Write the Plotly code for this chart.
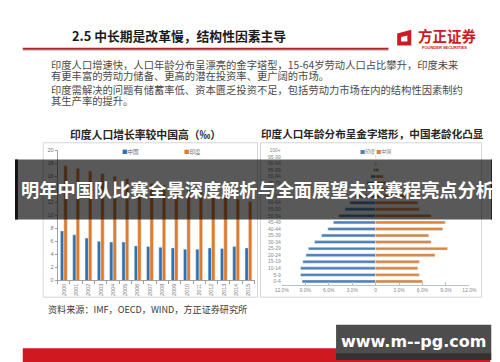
import plotly.graph_objects as go

# ---------------- data ----------------
years = ["2000", "2001", "2002", "2003", "2004", "2005", "2006", "2007",
         "2008", "2009", "2010", "2011", "2012", "2013", "2014", "2015"]
china_growth = [7.6, 7.0, 6.5, 6.0, 5.9, 5.9, 5.3, 5.2, 5.1, 5.0, 4.8, 4.8, 5.0, 4.9, 5.2, 5.0]
india_growth = [17.6, 17.2, 16.8, 16.4, 16.0, 15.6, 15.3, 14.9, 14.6, 14.2, 13.9, 13.5, 13.2, 12.8, 12.5, 12.1]

age_groups = ["0-4", "5-9", "10-14", "15-19", "20-24", "25-29", "30-34", "35-39",
              "40-44", "45-49", "50-54", "55-59", "60-64", "65-69", "70-74", "75-79",
              "80-84", "85-89", "90-94", "95-99", "100+"]
india_age = [9.4, 9.6, 9.6, 9.3, 8.9, 8.6, 7.8, 6.9, 6.1, 5.4, 4.7, 3.9, 3.3, 2.6,
             1.8, 1.1, 0.6, 0.25, 0.08, 0.02, 0.01]
china_age = [6.0, 5.6, 5.4, 5.6, 7.6, 9.2, 7.1, 6.8, 8.6, 8.9, 7.1, 5.6, 5.4, 3.8,
             2.6, 1.8, 1.0, 0.4, 0.1, 0.02, 0.0]

pyr_tickvals = [-12, -9, -6, -3, 0, 3, 6, 9, 12]
pyr_ticktext = ["12.0%", "9.0%", "6.0%", "3.0%", "0", "3.0%", "6.0%", "9.0%", "12.0%"]

W, H = 500, 362
CJK = "Noto Sans CJK SC"


def X(px):
    return px / W


def Y(py):
    return 1 - py / H


fig = go.Figure()

# left chart: growth rates
fig.add_trace(go.Bar(x=years, y=china_growth, name="中国", marker_color="#2E72B4",
                     width=0.28, offset=-0.28, xaxis="x", yaxis="y", showlegend=False))
fig.add_trace(go.Bar(x=years, y=india_growth, name="印度", marker_color="#E07B2C",
                     width=0.28, offset=0.0, xaxis="x", yaxis="y", showlegend=False))

# right chart: pyramid
fig.add_trace(go.Bar(y=age_groups, x=[-v for v in india_age], orientation="h", name="印度",
                     marker_color="#4F7FB8", width=0.45, offset=-0.225,
                     xaxis="x2", yaxis="y2", showlegend=False))
fig.add_trace(go.Bar(y=age_groups, x=china_age, orientation="h", name="中国",
                     marker_color="#D9843F", width=0.45, offset=-0.225,
                     xaxis="x2", yaxis="y2", showlegend=False))

small = dict(family="Liberation Sans", size=5.5, color="#777777")

fig.update_layout(
    width=W, height=H,
    margin=dict(l=0, r=0, t=0, b=0),
    paper_bgcolor="white", plot_bgcolor="rgba(0,0,0,0)",
    xaxis=dict(domain=[X(44), X(247)], anchor="y", type="category",
               range=[-0.5, 15.5], tickangle=-90, tickfont=small,
               showline=True, linecolor="#a0a0a0", linewidth=1,
               ticks="outside", ticklen=3, tickcolor="#a0a0a0", tickson="boundaries",
               showgrid=False, zeroline=False, fixedrange=True),
    yaxis=dict(domain=[Y(274), Y(141.5)], anchor="x", range=[0, 20], dtick=2,
               tickfont=small, showline=True, linecolor="#a0a0a0", linewidth=1,
               ticks="outside", ticklen=2, tickcolor="#a0a0a0",
               showgrid=False, zeroline=False, fixedrange=True),
    xaxis2=dict(domain=[X(275), X(468.5)], anchor="y2", range=[-12, 12],
                tickvals=pyr_tickvals, ticktext=pyr_ticktext,
                tickfont=dict(family="Liberation Sans", size=5, color="#8a8a8a"),
                showline=True, linecolor="#b4c2d0", linewidth=1,
                ticks="inside", ticklen=3, tickcolor="#b4c2d0",
                showgrid=False, zeroline=False, fixedrange=True),
    yaxis2=dict(domain=[Y(278.3), Y(138.3)], anchor="x2", type="category",
                categoryorder="array", categoryarray=age_groups,
                range=[-0.5, 20.5],
                tickfont=dict(family="Liberation Sans", size=5, color="#8a8a8a"),
                showline=False, ticks="", showgrid=False, zeroline=False,
                fixedrange=True),
)

shapes = []
# header red rule
shapes.append(dict(type="line", xref="paper", yref="paper", x0=X(8), x1=X(385),
                   y0=Y(38.5), y1=Y(38.5), line=dict(color="#a8282c", width=2)))
shapes.append(dict(type="line", xref="paper", yref="paper", x0=X(8), x1=X(385),
                   y0=Y(40.2), y1=Y(40.2), line=dict(color="#d8c8c8", width=1)))
# chart frames
for x0, x1 in [(29, 250), (253, 481)]:
    shapes.append(dict(type="rect", xref="paper", yref="paper", x0=X(x0), x1=X(x1),
                       y0=Y(291), y1=Y(134), line=dict(color="#d6d6d6", width=1),
                       fillcolor="rgba(0,0,0,0)", layer="below"))
# logo icon
logo = (f"M{X(394)},{Y(23)} L{X(408.5)},{Y(19)} L{X(408.5)},{Y(35)} L{X(394)},{Y(35)} Z "
        f"M{X(398)},{Y(26.5)} L{X(398)},{Y(31)} L{X(404.5)},{Y(31)} L{X(404.5)},{Y(25)} Z")
shapes.append(dict(type="path", xref="paper", yref="paper", path=logo,
                   fillcolor="#cc1b22", line=dict(width=0)))
# banner overlay
shapes.append(dict(type="rect", xref="paper", yref="paper", x0=0, x1=1,
                   y0=Y(212), y1=Y(151), fillcolor="rgba(0,0,0,0.65)",
                   line=dict(width=0), layer="above"))
shapes.append(dict(type="rect", xref="paper", yref="paper", x0=0, x1=X(3),
                   y0=Y(212), y1=Y(151), fillcolor="rgba(0,0,0,0.8)",
                   line=dict(width=0), layer="above"))
shapes.append(dict(type="rect", xref="paper", yref="paper", x0=X(491), x1=1,
                   y0=Y(212), y1=Y(151), fillcolor="rgba(0,0,0,0.85)",
                   line=dict(width=0), layer="above"))
# bottom red band
shapes.append(dict(type="rect", xref="paper", yref="paper", x0=X(8), x1=X(490),
                   y0=0, y1=Y(343), fillcolor="#d01820", line=dict(width=0),
                   layer="above"))
# watermark box
shapes.append(dict(type="rect", xref="paper", yref="paper", x0=X(331), x1=X(491),
                   y0=Y(355), y1=Y(319), fillcolor="#4d4d4d", line=dict(width=0),
                   layer="above"))
shapes.append(dict(type="rect", xref="paper", yref="paper", x0=X(331), x1=X(491),
                   y0=Y(355), y1=Y(348), fillcolor="rgba(0,0,0,0.35)", line=dict(width=0),
                   layer="above"))
fig.update_layout(shapes=shapes)

ann = []


def text(x, y, s, size, color="#333333", anchor="left", family=CJK, bold=False):
    ann.append(dict(xref="paper", yref="paper", x=X(x), y=Y(y), text=(f"<b>{s}</b>" if bold else s),
                    showarrow=False, xanchor=anchor, yanchor="middle",
                    font=dict(family=family, size=size, color=color)))


text(57, 25, "2.5 中长期是改革慢，结构性因素主导", 12.8, "#1a1a1a", bold=True)
text(413, 25, "方正证券", 14.5, "#cc1b22", bold=True)
text(418, 37.5, "FOUNDER SECURITIES", 4, "#cc1b22", family="Liberation Sans", bold=True)

body = [
    (54.5, "印度人口增速快，人口年龄分布呈漂亮的金字塔型，15-64岁劳动人口占比攀升，印度未来"),
    (65.5, "有更丰富的劳动力储备、更高的潜在投资率、更广阔的市场。"),
    (80, "印度需解决的问题有储蓄率低、资本匮乏投资不足，包括劳动力市场在内的结构性因素制约"),
    (91, "其生产率的提升。"),
]
for yy, s in body:
    text(35, yy, s, 10.3, "#4a4a4a")

text(135, 125, "印度人口增长率较中国高（‰）", 10.8, "#262626", anchor="center", bold=True)
text(369, 125, "印度人口年龄分布呈金字塔形，中国老龄化凸显", 10.6, "#262626", anchor="center", bold=True)

text(108, 143, '<span style="color:#2E72B4">■</span>中国', 5.5, "#666666")
text(172, 143, '<span style="color:#E07B2C">■</span>印度', 5.5, "#666666")
text(354, 142, '<span style="color:#4F7FB8">■</span>印度 <span style="color:#D9843F">■</span>中国', 5, "#777777")

text(32, 303, "资料来源：IMF，OECD，WIND，方正证券研究所", 9.1, "#3a3a3a")

text(250, 181.5, "明年中国队比赛全景深度解析与全面展望未来赛程亮点分析", 18.2, "#ffffff",
     anchor="center", bold=True)
text(411, 336.5, "www.m--pg.com", 16, "#ffffff", anchor="center", family="DejaVu Sans", bold=True)

fig.update_layout(annotations=ann)

fig.write_html("out.html")
